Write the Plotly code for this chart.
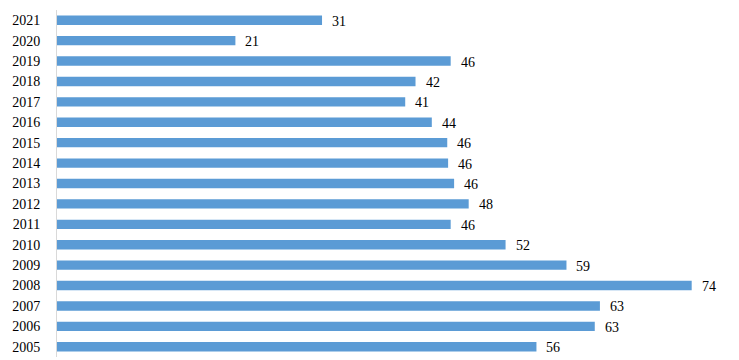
import plotly.graph_objects as go

years = ["2005", "2006", "2007", "2008", "2009", "2010", "2011", "2012", "2013",
         "2014", "2015", "2016", "2017", "2018", "2019", "2020", "2021"]
values = [55.9, 62.7, 63.3, 74.0, 59.4, 52.3, 45.9, 48.0, 46.3,
          45.6, 45.5, 43.7, 40.6, 41.8, 45.9, 20.8, 30.9]
labels = ["56", "63", "63", "74", "59", "52", "46", "48", "46",
          "46", "46", "44", "41", "42", "46", "21", "31"]

fig = go.Figure(go.Bar(
    x=values, y=years, orientation="h",
    marker=dict(color="#5B9BD5", line=dict(width=0)),
    hoverinfo="skip",
))

annotations = [
    dict(x=v, y=i, text=t, xref="x", yref="y", xanchor="left", yanchor="middle",
         xshift=8, yshift=-1, showarrow=False,
         font=dict(family="Liberation Serif", size=14, color="#000000"))
    for i, (v, t) in enumerate(zip(values, labels))
]

fig.update_layout(
    width=739, height=360,
    margin=dict(l=57, r=13, t=10, b=3),
    paper_bgcolor="#FFFFFF", plot_bgcolor="#FFFFFF",
    bargap=0.54,
    showlegend=False,
    annotations=annotations,
    font=dict(family="Liberation Serif", size=14, color="#000000"),
    xaxis=dict(range=[0, 78], showgrid=False, zeroline=False, showticklabels=False,
               showline=False, ticks=""),
    yaxis=dict(type="category", categoryorder="array", categoryarray=years,
               range=[-0.5, 16.5],
               showgrid=False, zeroline=False, showline=True, linecolor="#D9D9D9",
               linewidth=1, ticks="", ticklabelstandoff=13,
               tickfont=dict(family="Liberation Serif", size=14, color="#000000")),
)

fig.write_html("out.html", config={"displayModeBar": False},
               post_script="document.body.style.margin='0px';document.body.style.overflow='hidden';")
